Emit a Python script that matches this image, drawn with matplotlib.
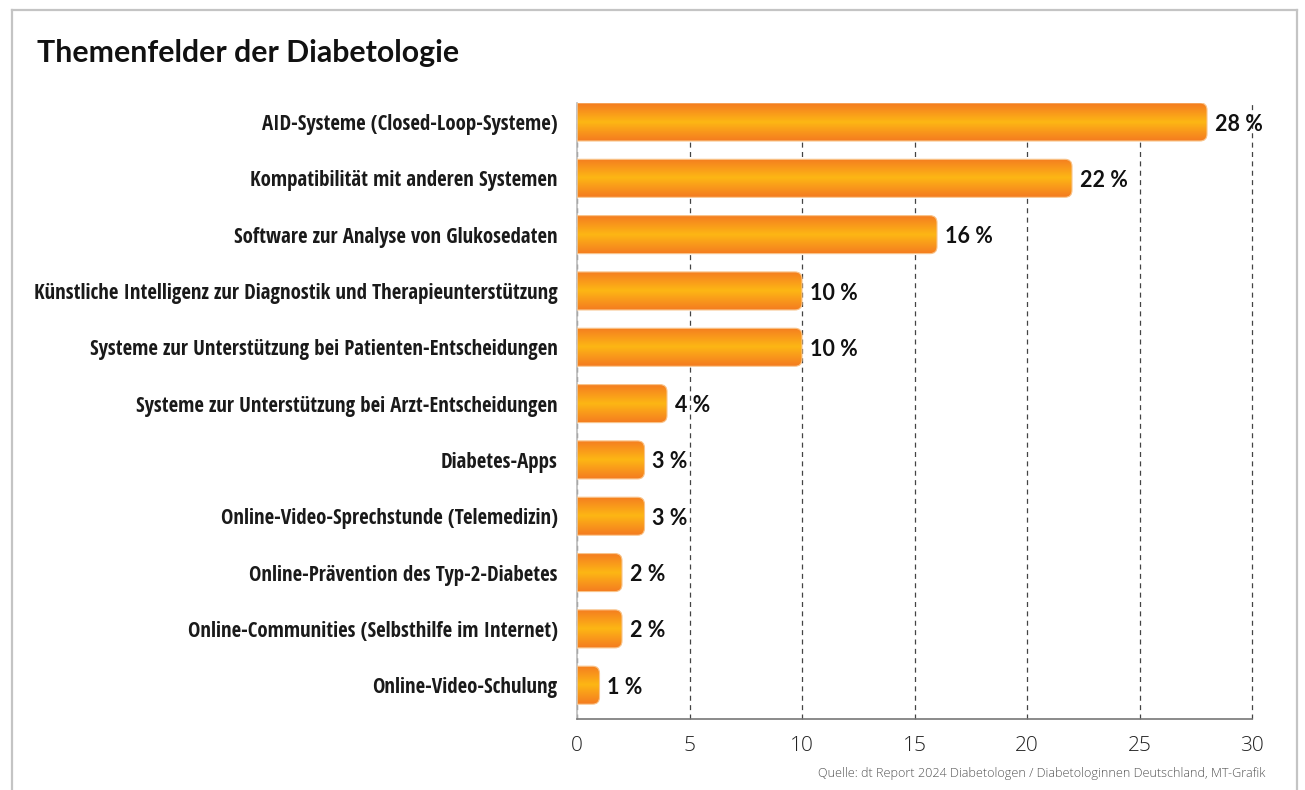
import numpy as np
import matplotlib
matplotlib.use("Agg")
import matplotlib.pyplot as plt
from matplotlib.path import Path
from matplotlib.patches import PathPatch
from matplotlib.colors import LinearSegmentedColormap
from matplotlib.lines import Line2D

categories = [
    "AID-Systeme (Closed-Loop-Systeme)",
    "Kompatibilität mit anderen Systemen",
    "Software zur Analyse von Glukosedaten",
    "Künstliche Intelligenz zur Diagnostik und Therapieunterstützung",
    "Systeme zur Unterstützung bei Patienten-Entscheidungen",
    "Systeme zur Unterstützung bei Arzt-Entscheidungen",
    "Diabetes-Apps",
    "Online-Video-Sprechstunde (Telemedizin)",
    "Online-Prävention des Typ-2-Diabetes",
    "Online-Communities (Selbsthilfe im Internet)",
    "Online-Video-Schulung",
]
values = [28, 22, 16, 10, 10, 4, 3, 3, 2, 2, 1]
xticks = [0, 5, 10, 15, 20, 25, 30]
title = "Themenfelder der Diabetologie"
source = "Quelle: dt Report 2024 Diabetologen / Diabetologinnen Deutschland, MT-Grafik"

W, H = 1305, 790
fig = plt.figure(figsize=(W / 100, H / 100), dpi=100)
fig.patch.set_facecolor("white")

# frame
for xs, ys in [([12.5, 12.5], [0, 780.5]), ([12.5, 1297], [780.5, 780.5]), ([1297, 1297], [780.5, 0])]:
    fig.add_artist(Line2D([x / W for x in xs], [y / H for y in ys], color="#c4c4c4", lw=1.6,
                          transform=fig.transFigure))

ax = fig.add_axes([577 / W, 1 - 719 / H, (1252 - 577) / W, (719 - 103) / H])
n = len(categories)
y = np.arange(n)
bar_h = 0.675
ylo, yhi = n - 1 + 0.6, -0.337
ax.set_xlim(0, 30)
ax.set_ylim(ylo, yhi)

bars = ax.barh(y, values, height=bar_h, color="none", edgecolor="none")

cmap = LinearSegmentedColormap.from_list("og", ["#F47B20", "#F9981B", "#FDB714", "#F9981B", "#F47B20"])
grad = np.linspace(0, 1, 256).reshape(-1, 1)

px_x = 30 / (1252 - 577)
px_y = (ylo - yhi) / (719 - 103)
r_px = 7
for b in bars:
    x0, y0 = b.get_x(), b.get_y()
    w, h = b.get_width(), b.get_height()
    rx = min(r_px * px_x, w / 2)
    ry = r_px * px_y
    x1, y1 = x0 + w, y0 + h
    verts = [(x0, y0), (x1 - rx, y0), (x1, y0), (x1, y0 + ry), (x1, y1 - ry), (x1, y1),
             (x1 - rx, y1), (x0, y1), (x0, y0)]
    codes = [Path.MOVETO, Path.LINETO, Path.CURVE3, Path.CURVE3, Path.LINETO, Path.CURVE3,
             Path.CURVE3, Path.LINETO, Path.CLOSEPOLY]
    path = Path(verts, codes)
    patch = PathPatch(path, facecolor="none", edgecolor="#F9C48A", lw=0.8, zorder=3)
    ax.add_patch(patch)
    im = ax.imshow(grad, cmap=cmap, aspect="auto", extent=(x0, x1, y1, y0), zorder=2,
                   interpolation="bilinear")
    im.set_clip_path(patch)

ax.set_xlim(0, 30)
ax.set_ylim(ylo, yhi)

for yi, v in zip(y, values):
    ax.annotate(f"{v} %", xy=(v, yi), xytext=(5.5, -1.5), textcoords="offset points",
                ha="left", va="center", fontsize=15.5, fontweight="bold", family="Lato",
                color="#111111", zorder=1)

ax.set_yticks(y)
ax.set_yticklabels(categories, fontsize=15, fontweight="bold",
                   family=["Open Sans Condensed", "DejaVu Sans"], color="#1a1a1a")
ax.tick_params(axis="y", length=0, pad=14)
ax.set_xticks(xticks)
ax.set_xticklabels([str(t) for t in xticks], fontsize=15, family="Open Sans",
                   fontweight="light", color="#222222")
ax.tick_params(axis="x", length=0, pad=12)

ax.grid(axis="x", color="#444444", lw=0.9, linestyle=(0, (4, 3.5)), zorder=0)
ax.set_axisbelow(True)
for gl in ax.xaxis.get_gridlines():
    gl.set_clip_on(False)
for s in ["top", "right"]:
    ax.spines[s].set_visible(False)
ax.spines["left"].set_color("#bbbbbb")
ax.spines["left"].set_linewidth(1.2)
ax.spines["bottom"].set_color("#777777")
ax.spines["bottom"].set_linewidth(1.2)

fig.text(37 / W, 1 - 53 / H, title, fontsize=21.8, fontweight="bold", family="Lato",
         color="#111111", ha="left", va="center")
fig.text(1265 / W, 1 - 773 / H, source, fontsize=9.1, family="Open Sans", fontweight="light",
         color="#555555", ha="right", va="center")

fig.savefig("out.png", dpi=100)
